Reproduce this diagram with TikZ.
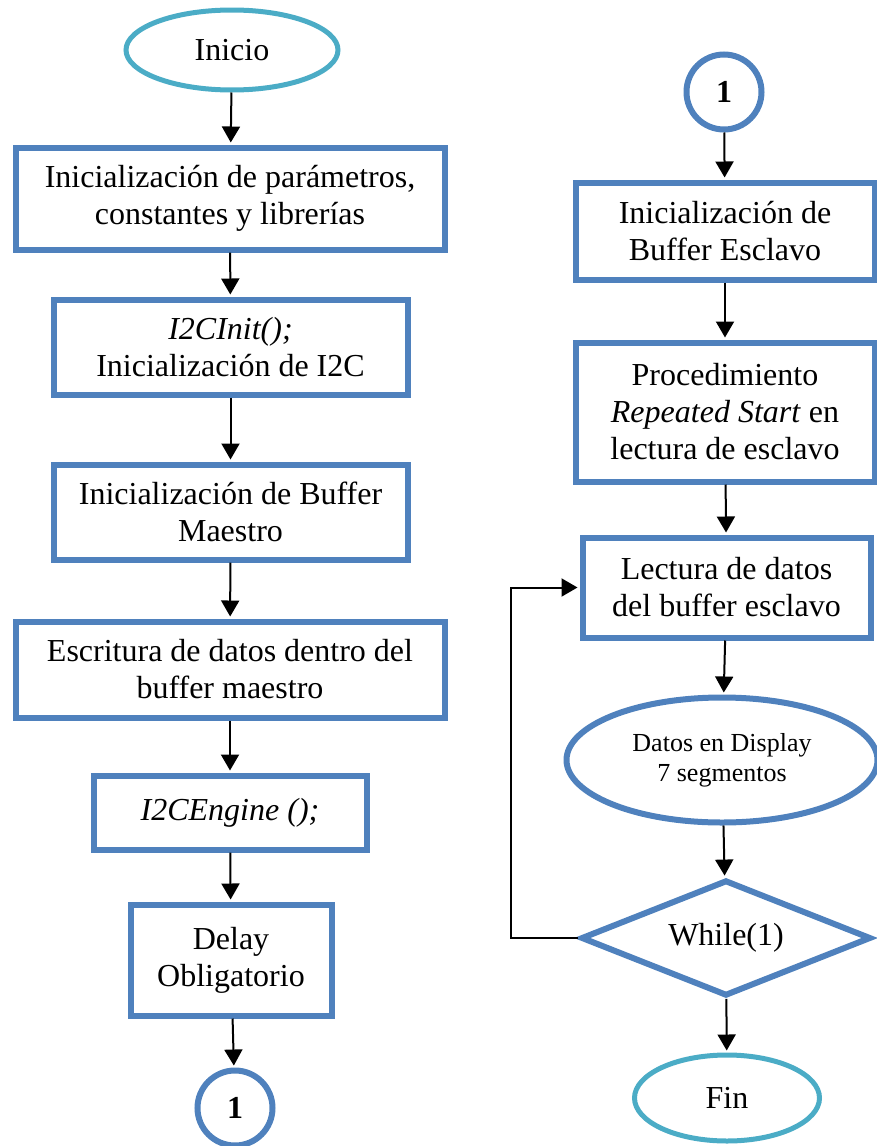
\documentclass[tikz,border=0pt]{standalone}
\usepackage{fontspec}
\setmainfont{Liberation Serif}
\usetikzlibrary{shapes.geometric,arrows.meta}
\definecolor{boxblue}{HTML}{4F81BD}
\definecolor{termteal}{HTML}{4BACC6}
\tikzset{
  pbox/.style={draw=boxblue, line width=6pt, rectangle, align=center, inner sep=0pt,
    font=\fontsize{32}{37}\selectfont},
  term/.style={draw=termteal, line width=5pt, ellipse, inner sep=0pt, align=center,
    font=\fontsize{32}{37}\selectfont},
  conn/.style={draw=boxblue, line width=6pt, circle, inner sep=0pt, minimum size=75pt,
    font=\fontsize{32}{37}\selectfont\bfseries},
  outbox/.style={draw=boxblue, line width=6pt, ellipse, inner sep=0pt, align=center,
    font=\fontsize{26}{30}\selectfont},
  decide/.style={draw=boxblue, line width=6pt, diamond, shape aspect=2.5, inner sep=0pt,
    align=center, font=\fontsize{32}{37}\selectfont},
  arr/.style={-{Triangle[width=18pt,length=16pt]}, line width=2pt, black, shorten >=2pt},
  link/.style={line width=2pt, black}
}
\begin{document}
\begin{tikzpicture}[x=1pt,y=-1pt]
\useasboundingbox (0,0) rectangle (876,1146);

% left column
\node[term, minimum width=212, minimum height=80] (inicio) at (232,50) {Inicio};
\node[pbox, minimum width=429, minimum height=102] (params) at (230,198.5)
  {Inicialización de parámetros,\\constantes y librerías};
\node[pbox, minimum width=354, minimum height=95] (i2cinit) at (230.5,347)
  {\textit{I2CInit();}\\Inicialización de I2C};
\node[pbox, minimum width=354, minimum height=95] (bufm) at (230.5,512)
  {Inicialización de Buffer\\Maestro};
\node[pbox, minimum width=429, minimum height=96] (escr) at (230,669.5)
  {Escritura de datos dentro del\\buffer maestro};
\node[pbox, minimum width=273, minimum height=74] (engine) at (230,812.5)
  {\textit{I2CEngine ();}};
\node[pbox, minimum width=201, minimum height=111] (delay) at (231,960)
  {Delay\\Obligatorio};
\node[conn] (c1a) at (235,1108) {1};

% right column
\node[conn] (c1b) at (724,92) {1};
\node[pbox, minimum width=299, minimum height=97] (bufe) at (725,231)
  {Inicialización de\\Buffer Esclavo};
\node[pbox, minimum width=299, minimum height=139] (rstart) at (725,412)
  {Procedimiento\\\textit{Repeated Start} en\\lectura de esclavo};
\node[pbox, minimum width=288, minimum height=100] (lect) at (726.5,587.5)
  {Lectura de datos\\del buffer esclavo};
\node[outbox, minimum width=311, minimum height=125] (disp) at (722,760)
  {Datos en Display\\7 segmentos};
\node[decide, minimum width=290, minimum height=116] (loop) at (726,938) {While(1)};
\node[term, minimum width=185, minimum height=86] (fin) at (727,1098) {Fin};

% connectors
\draw[arr] (inicio) -- (params);
\draw[arr] (params) -- (i2cinit);
\draw[arr] (i2cinit) -- (bufm);
\draw[arr] (bufm) -- (escr);
\draw[arr] (escr) -- (engine);
\draw[arr] (engine) -- (delay);
\draw[arr] (delay) -- (c1a);

\draw[arr] (c1b) -- (bufe);
\draw[arr] (bufe) -- (rstart);
\draw[arr] (rstart) -- (lect);
\draw[arr] (lect) -- (disp);
\draw[arr] (disp) -- (loop);
\draw[arr] (loop) -- (fin);
\draw[arr] (loop.west) -- ++(-67,0) |- (lect.west);
\end{tikzpicture}
\end{document}
